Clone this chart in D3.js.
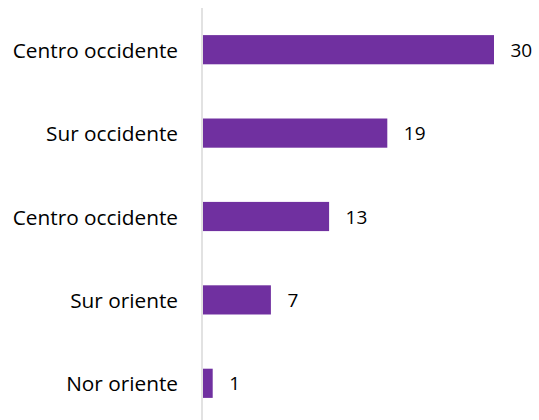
<!DOCTYPE html>
<html>
<head>
<meta charset="utf-8">
<script src="https://cdn.jsdelivr.net/npm/d3@7"></script>
<style>
  body { margin: 0; background: #fff; }
  svg { display: block; font-family: "Open Sans", sans-serif; }
</style>
</head>
<body>
<div id="chart"></div>
<script>
const categories = ["Centro occidente", "Sur occidente", "Centro occidente ", "Sur oriente", "Nor oriente"];
const values = [30, 19, 13, 7, 1];

const width = 539, height = 420;
const margin = { top: 8, right: 45, bottom: 0, left: 202 };

const svg = d3.select("#chart").append("svg")
  .attr("width", width)
  .attr("height", height);

const x = d3.scaleLinear()
  .domain([0, 30])
  .range([margin.left + 1, 494]);

const y = d3.scaleBand()
  .domain(categories)
  .range([margin.top, 425])
  .paddingInner(0.65)
  .paddingOuter(0.325);

svg.append("g")
  .selectAll("rect")
  .data(values)
  .enter()
  .append("rect")
  .attr("x", x(0))
  .attr("y", (d, i) => y(categories[i]))
  .attr("width", d => x(d) - x(0))
  .attr("height", y.bandwidth())
  .attr("fill", "#7030a0");

// axis line
svg.append("line")
  .attr("x1", margin.left).attr("x2", margin.left)
  .attr("y1", margin.top).attr("y2", height)
  .attr("stroke", "#d9d9d9")
  .attr("stroke-width", 1.5);

svg.append("g")
  .selectAll("text")
  .data(categories)
  .enter()
  .append("text")
  .attr("x", 178)
  .attr("y", d => y(d) + y.bandwidth() / 2)
  .attr("text-anchor", "end")
  .attr("dominant-baseline", "central")
  .attr("font-size", 20.8)
  .attr("fill", "#000")
  .text(d => d.trim());

svg.append("g")
  .selectAll("text")
  .data(values)
  .enter()
  .append("text")
  .attr("x", d => x(d) + 16.5)
  .attr("y", (d, i) => y(categories[i]) + y.bandwidth() / 2)
  .attr("dominant-baseline", "central")
  .attr("font-size", 19)
  .attr("fill", "#000")
  .text(d => d);
</script>
</body>
</html>
